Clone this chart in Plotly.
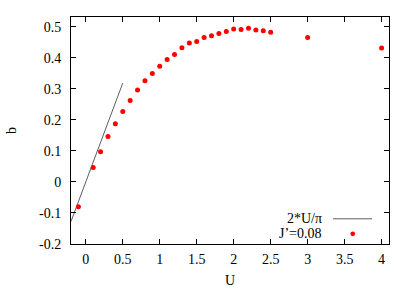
import numpy as np
import plotly.graph_objects as go

U_vals = [-0.1, 0.1, 0.2, 0.3, 0.4, 0.5, 0.6, 0.7, 0.8, 0.9, 1.0, 1.1, 1.2, 1.3, 1.4,
          1.5, 1.6, 1.7, 1.8, 1.9, 2.0, 2.1, 2.2, 2.3, 2.4, 2.5, 3.0, 4.0]
b_vals = [-0.080, 0.046, 0.097, 0.146, 0.187, 0.227, 0.262, 0.296, 0.326, 0.349, 0.372,
          0.394, 0.410, 0.432, 0.447, 0.452, 0.465, 0.471, 0.478, 0.484, 0.492, 0.491,
          0.495, 0.489, 0.487, 0.482, 0.465, 0.431]
line_U = [-0.2, 0.5]
line_b = [2 * u / np.pi for u in line_U]

x_ticks = [0, 0.5, 1, 1.5, 2, 2.5, 3, 3.5, 4]
y_ticks = [-0.2, -0.1, 0, 0.1, 0.2, 0.3, 0.4, 0.5]

FONT = "Liberation Serif, Tinos, Nimbus Roman, DejaVu Serif, serif"

fig = go.Figure()
fig.add_trace(go.Scatter(x=line_U, y=line_b, mode="lines",
                         line=dict(color="#333333", width=0.8), showlegend=False))
fig.add_trace(go.Scatter(x=U_vals, y=b_vals, mode="markers",
                         marker=dict(color="#ff0000", size=5), showlegend=False))

axis_common = dict(showline=True, linecolor="black", linewidth=1, mirror="allticks",
                   ticks="inside", ticklen=5, tickcolor="black", showgrid=False,
                   zeroline=False, automargin=False,
                   tickfont=dict(family=FONT, size=14, color="black"))

fig.update_xaxes(range=[-0.2, 4.1], tickvals=x_ticks, ticktext=[f"{v:g}" for v in x_ticks],
                 title=dict(text="U", font=dict(family=FONT, size=14, color="black"), standoff=9),
                 ticklabelstandoff=2, **axis_common)
fig.update_yaxes(range=[-0.2, 0.531], tickvals=y_ticks, ticktext=[f"{v:g}" for v in y_ticks],
                 title=dict(text="b", font=dict(family=FONT, size=14, color="black"), standoff=19),
                 ticklabelstandoff=6, **axis_common)

# legend (gnuplot style: text right-aligned, sample on the right)
fig.add_annotation(xref="paper", yref="paper", x=0.797, y=0.111, text="2*U/π",
                   showarrow=False, xanchor="right", yanchor="middle",
                   font=dict(family=FONT, size=14, color="black"))
fig.add_annotation(xref="paper", yref="paper", x=0.797, y=0.045, text="J’=0.08",
                   showarrow=False, xanchor="right", yanchor="middle",
                   font=dict(family=FONT, size=14, color="black"))
fig.add_shape(type="line", xref="paper", yref="paper", x0=0.824, x1=0.947, y0=0.111, y1=0.111,
              line=dict(color="#333333", width=0.8))
fig.add_shape(type="circle", xref="paper", yref="paper", x0=0.886 - 0.0075, x1=0.886 + 0.0075,
              y0=0.045 - 0.0105, y1=0.045 + 0.0105, fillcolor="#ff0000", line=dict(width=0))

fig.update_layout(width=415, height=291, margin=dict(l=71, r=26, t=17, b=47),
                  plot_bgcolor="white", paper_bgcolor="white",
                  font=dict(family=FONT, size=14, color="black"))
fig.write_html("out.html", config={"displayModeBar": False},
               post_script="document.body.style.margin='0';")
